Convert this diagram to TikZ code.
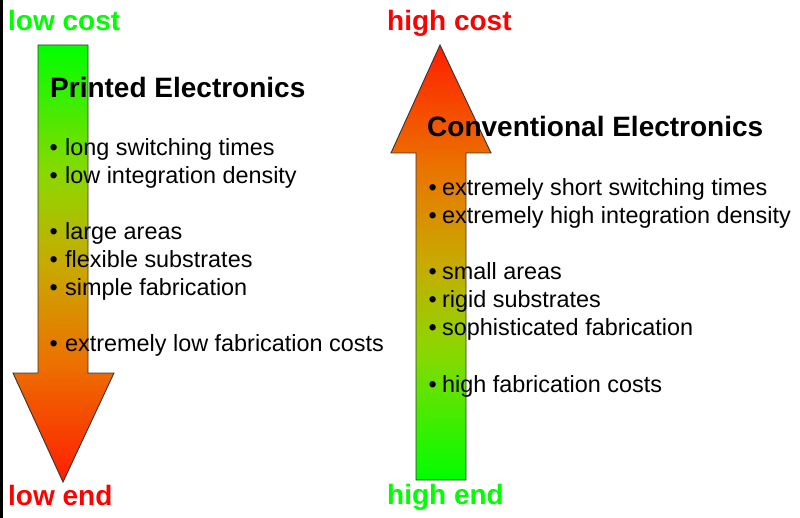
\documentclass[tikz,border=0pt]{standalone}
\usepackage{fontspec}
\setmainfont{Liberation Sans}
\definecolor{lgreen}{RGB}{0,255,0}
\definecolor{lred}{RGB}{255,0,0}
\definecolor{s0}{RGB}{0,255,0}
\definecolor{s1}{RGB}{140,215,0}
\definecolor{s2}{RGB}{200,170,0}
\definecolor{s3}{RGB}{235,115,0}
\definecolor{s4}{RGB}{255,30,0}
\pgfdeclareverticalshading{grdown}{100bp}{color(0bp)=(s4); color(25bp)=(s4); color(39bp)=(s3); color(50bp)=(s2); color(60bp)=(s1); color(75bp)=(s0); color(100bp)=(s0)}
\pgfdeclareverticalshading{grup}{100bp}{color(0bp)=(s0); color(25bp)=(s0); color(40bp)=(s1); color(50bp)=(s2); color(61bp)=(s3); color(75bp)=(s4); color(100bp)=(s4)}
\tikzset{
  arrowshape/.style={draw=black!80, line width=0.9pt, line join=miter},
  endlbl/.style={anchor=base west, inner sep=0pt, font=\fontsize{28}{33}\selectfont\bfseries},
  ttl/.style={anchor=base west, inner sep=0pt, font=\fontsize{28}{33}\selectfont\bfseries, text=black},
  itemL/.style={anchor=base west, inner sep=0pt, font=\fontsize{23.4}{28}\selectfont, text=black},
}
\newcommand{\bulL}[1]{\makebox[15.5pt][l]{•}#1}
\newcommand{\bulR}[1]{\makebox[13.5pt][l]{•}#1}
\begin{document}
\begin{tikzpicture}[x=1pt,y=-1pt]
\useasboundingbox (0,0) rectangle (800,518);
\fill[white] (0,0) rectangle (800,518);
\fill[black] (0,0) rectangle (2.5,518);
% left arrow (down)
\draw[arrowshape, shading=grdown] (38,45) -- (88,45) -- (88,373) -- (114,373) -- (63,482) -- (13,373) -- (38,373) -- cycle;
% right arrow (up)
\draw[arrowshape, shading=grup] (416,480) -- (466,480) -- (466,153) -- (491,153) -- (440,45) -- (391,153) -- (416,153) -- cycle;
% end labels
\node[endlbl, text=lgreen] (lowcost) at (8,31) {low cost};
\node[endlbl, text=lred] (lowend) at (8,505) {low end};
\node[endlbl, text=lred] (highcost) at (387,31) {high cost};
\node[endlbl, text=lgreen] (highend) at (387,504) {high end};
% left text
\node[ttl] (pe) at (50,98) {Printed Electronics};
\node[itemL] (l1) at (49.5,156) {\bulL{long switching times}};
\node[itemL] (l2) at (49.5,184) {\bulL{low integration density}};
\node[itemL] (l3) at (49.5,240) {\bulL{large areas}};
\node[itemL] (l4) at (49.5,268) {\bulL{flexible substrates}};
\node[itemL] (l5) at (49.5,296) {\bulL{simple fabrication}};
\node[itemL] (l6) at (49.5,352) {\bulL{extremely low fabrication costs}};
% right text
\node[ttl] (ce) at (427,137) {Conventional Electronics};
\node[itemL] (r1) at (428.5,196) {\bulR{extremely short switching times}};
\node[itemL] (r2) at (428.5,224) {\bulR{extremely high integration density}};
\node[itemL] (r3) at (428.5,280) {\bulR{small areas}};
\node[itemL] (r4) at (428.5,308) {\bulR{rigid substrates}};
\node[itemL] (r5) at (428.5,336) {\bulR{sophisticated fabrication}};
\node[itemL] (r6) at (428.5,392) {\bulR{high fabrication costs}};
\end{tikzpicture}
\end{document}
